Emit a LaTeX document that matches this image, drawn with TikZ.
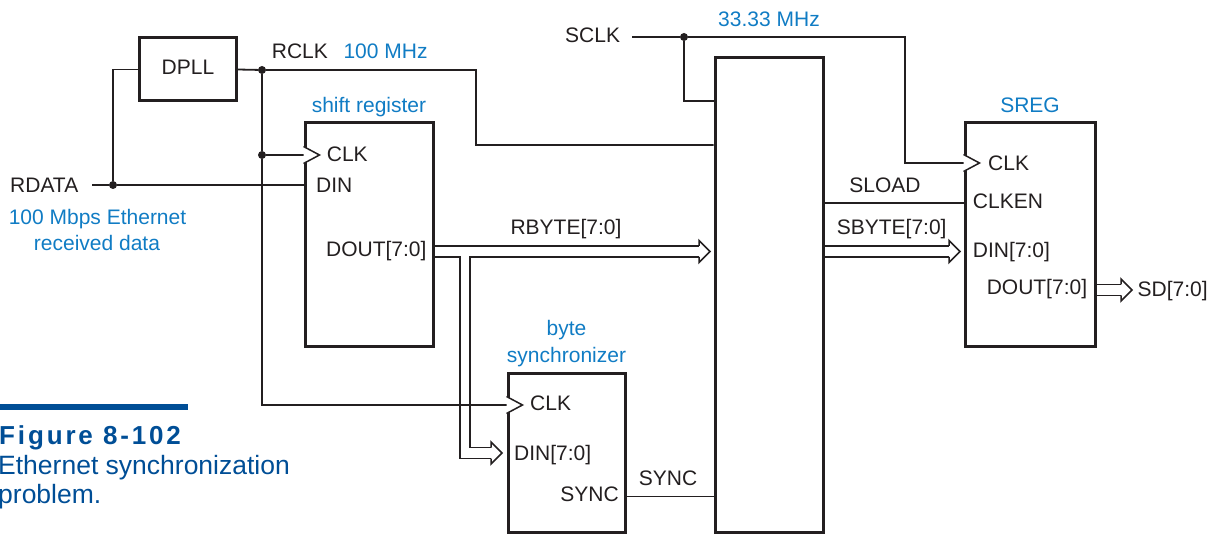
\documentclass[tikz,border=0pt]{standalone}
\usepackage{fontspec}
\setmainfont{Liberation Sans}
\usetikzlibrary{calc}
\definecolor{lblue}{RGB}{16,124,196}
\definecolor{dblue}{RGB}{0,78,150}
\definecolor{ink}{RGB}{35,31,32}
\tikzset{
  box/.style={draw=ink, line width=3pt, inner sep=0pt},
  wire/.style={draw=ink, line width=1.8pt},
  txt/.style={inner sep=0pt, font=\fontsize{21}{24}\selectfont, text=ink},
  btxt/.style={txt, text=lblue},
  jdot/.style={circle, fill=ink, inner sep=0pt, minimum size=8pt},
  clkmark/.style={draw=ink, line width=1.5pt, line join=miter},
  bus/.style={draw=ink, line width=1.5pt, line join=miter},
  pics/busarrow/.style={code={\draw[bus, fill=white] (-11,-5.5) -- (-11,-11) -- (0,0) -- (-11,11) -- (-11,5.5);}},
  pics/clktri/.style={code={\draw[clkmark, fill=white] (0,-8.5) -- (16,0) -- (0,8.5);}}
}
\begin{document}
\begin{tikzpicture}[x=1pt,y=-1pt]
\useasboundingbox (0,0) rectangle (1210,534);

% boxes
\node[box, minimum width=97pt, minimum height=63pt] (dpll) at (187.5,69.5) {};
\node[box, minimum width=128pt, minimum height=224pt] (sr) at (369,235) {};
\node[box, minimum width=117pt, minimum height=158pt] (bs) at (566.5,453) {};
\node[box, minimum width=108pt, minimum height=474pt] (big) at (769,295) {};
\node[box, minimum width=130pt, minimum height=224pt] (sreg) at (1030,235) {};

% texts
\node[txt, anchor=base] (tdpll) at (188,75) {DPLL};
\node[txt, anchor=base west] (trdata) at (10,192.3) {RDATA};
\node[btxt, anchor=base] (teth1) at (97.5,225) {100 Mbps Ethernet};
\node[btxt, anchor=base] (teth2) at (97,250.7) {received data};
\node[txt, anchor=base west] (trclk) at (271.7,58.3) {RCLK};
\node[btxt, anchor=base west] (t100) at (343.3,58.3) {100 MHz};
\node[btxt, anchor=base] (tsr) at (369,112.7) {shift register};
\node[txt, anchor=base west] (tsrclk) at (326.7,161.5) {CLK};
\node[txt, anchor=base west] (tsrdin) at (316,192.3) {DIN};
\node[txt, anchor=base east] (tsrdout) at (426.7,256.7) {DOUT[7:0]};
\node[txt, anchor=base] (trbyte) at (566,235) {RBYTE[7:0]};
\node[txt, anchor=base west] (tsclk) at (565,42.7) {SCLK};
\node[btxt, anchor=base] (t33) at (769,26.7) {33.33 MHz};
\node[btxt, anchor=base] (tbyte) at (566.5,336) {byte};
\node[btxt, anchor=base] (tsync1) at (566.5,362.7) {synchronizer};
\node[txt, anchor=base west] (tbsclk) at (530,410.7) {CLK};
\node[txt, anchor=base west] (tbsdin) at (514,460) {DIN[7:0]};
\node[txt, anchor=base east] (tbssync) at (619,501.7) {SYNC};
\node[txt, anchor=base] (tsyncw) at (668,485) {SYNC};
\node[txt, anchor=base] (tsload) at (885,192.7) {SLOAD};
\node[txt, anchor=base] (tsbyte) at (891.7,235) {SBYTE[7:0]};
\node[btxt, anchor=base] (tsreg) at (1030,112.7) {SREG};
\node[txt, anchor=base west] (tsregclk) at (988,170.7) {CLK};
\node[txt, anchor=base west] (tclken) at (972.7,209) {CLKEN};
\node[txt, anchor=base west] (tsregdin) at (972.7,257.3) {DIN[7:0]};
\node[txt, anchor=base east] (tsregdout) at (1087.3,295) {DOUT[7:0]};
\node[txt, anchor=base west] (tsd) at (1137.5,296.5) {SD[7:0]};

% junction dots
\node[jdot] (j1) at (113,185) {};
\node[jdot] (j2) at (262,70) {};
\node[jdot] (j3) at (262,155) {};
\node[jdot] (j4) at (684,37) {};

% free ends
\coordinate (rdin) at (92,185);
\coordinate (sclkin) at (632,37);

% wires
\draw[wire] (rdin) -- (j1) -- (sr.west |- j1);
\draw[wire] (j1) |- (dpll.west);
\draw[wire] (dpll.east) -- (j2) -- (476,70) |- (big.west |- 0,145);
\draw[wire] (j2) -- (j3) |- (bs.west |- 0,405);
\draw[wire] (j3) -- (sr.west |- j3);
\draw[wire] (sclkin) -- (j4) -- (905,37) |- (sreg.west |- 0,163);
\draw[wire] (j4) |- (big.west |- 0,101);
\draw[wire] (big.east |- 0,203) -- (sreg.west |- 0,203);
\draw[wire] (bs.east |- 0,496.5) -- (big.west |- 0,496.5);

% clock marks
\pic at (sr.west |- j3) {clktri};
\pic at (bs.west |- 0,405) {clktri};
\pic at (sreg.west |- 0,163) {clktri};

% buses
\coordinate (rbtip) at ($(big.west |- 0,251.5)+(-3.5,0)$);
\coordinate (bstip) at ($(bs.west |- 0,453)+(-4.5,0)$);
\coordinate (sbtip) at ($(sreg.west |- 0,251.5)+(-3.5,0)$);
\coordinate (sdtip) at (1132,290);
\draw[bus] (sr.east |- 0,246) -- ($(rbtip)+(-11,-5.5)$);
\draw[bus] ($(rbtip)+(-11,5.5)$) -- (470,257) |- ($(bstip)+(-11,-5.5)$);
\draw[bus] (sr.east |- 0,257) -- (460,257) |- ($(bstip)+(-11,5.5)$);
\pic at (rbtip) {busarrow};
\pic at (bstip) {busarrow};
\draw[bus] (big.east |- 0,246) -- ($(sbtip)+(-11,-5.5)$);
\draw[bus] (big.east |- 0,257) -- ($(sbtip)+(-11,5.5)$);
\pic at (sbtip) {busarrow};
\draw[bus] (sreg.east |- 0,284.5) -- ($(sdtip)+(-11,-5.5)$);
\draw[bus] (sreg.east |- 0,295.5) -- ($(sdtip)+(-11,5.5)$);
\pic at (sdtip) {busarrow};

% caption
\fill[dblue] (0,404) rectangle (188,410);
\node[inner sep=0pt, anchor=base west, text=dblue, font=\fontsize{26}{29}\bfseries\addfontfeature{LetterSpace=11}] (cap1) at (-1,444) {Figure 8-102};
\node[inner sep=0pt, anchor=base west, text=dblue, font=\fontsize{26.5}{29}\selectfont] (cap2) at (-2,474.3) {Ethernet synchronization};
\node[inner sep=0pt, anchor=base west, text=dblue, font=\fontsize{26.5}{29}\selectfont] (cap3) at (-2,503) {problem.};
\end{tikzpicture}
\end{document}
